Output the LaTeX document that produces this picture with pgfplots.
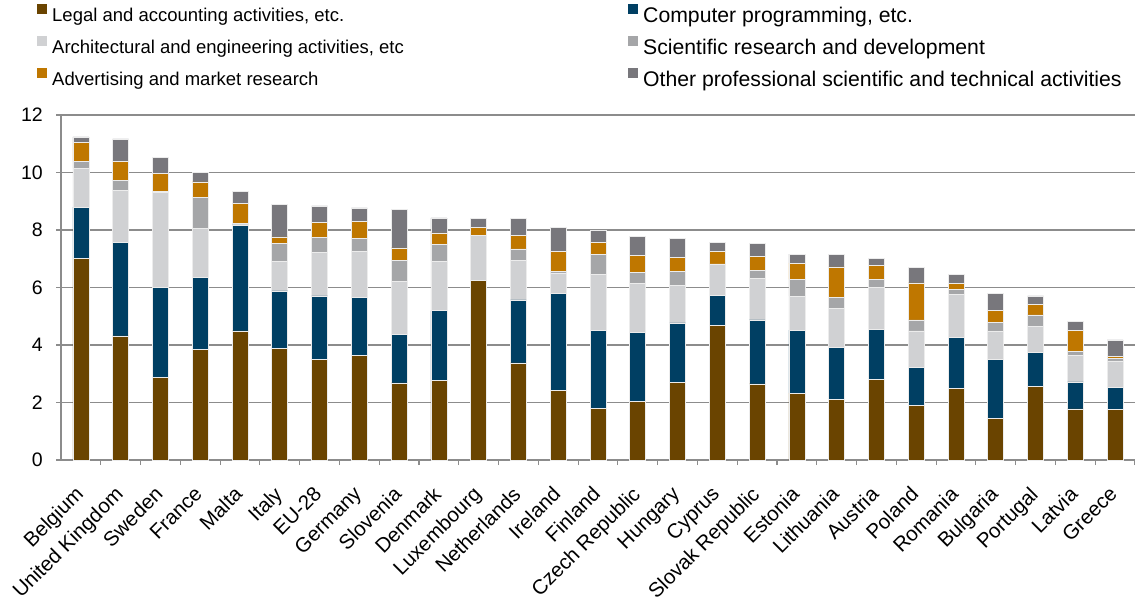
\documentclass[border=0pt]{standalone}
\usepackage{pgfplots}
\usepackage{pgfplotstable}
\pgfplotsset{compat=1.18}
\usepackage{fontspec}
\setmainfont{Liberation Sans}

\definecolor{clegal}{HTML}{6A4400}
\definecolor{ccomp}{HTML}{003F63}
\definecolor{carch}{HTML}{D0D1D3}
\definecolor{csci}{HTML}{A5A6A8}
\definecolor{cadv}{HTML}{BF7700}
\definecolor{coth}{HTML}{78777C}
\definecolor{cgrid}{HTML}{8C8C8C}

\newcommand{\bigtxt}{\fontsize{21.2}{25}\selectfont}

% employment share by sector, stacked
\pgfplotstableread{
x  legal comp arch sci  adv  oth
0  7.01  1.79 1.34 0.25 0.65 0.20
1  4.32  3.24 1.82 0.34 0.66 0.79
2  2.87  3.14 3.30 0.02 0.64 0.55
3  3.85  2.51 1.69 1.08 0.54 0.34
4  4.49  3.69 0.02 0.02 0.70 0.43
5  3.88  2.00 1.02 0.63 0.23 1.12
6  3.49  2.22 1.52 0.52 0.51 0.58
7  3.64  2.02 1.60 0.45 0.58 0.48
8  2.68  1.70 1.84 0.72 0.44 1.35
9  2.76  2.43 1.73 0.57 0.41 0.52
10 6.26  0.00 1.54 0.00 0.30 0.30
11 3.38  2.19 1.38 0.39 0.48 0.58
12 2.42  3.37 0.72 0.05 0.69 0.84
13 1.80  2.72 1.94 0.70 0.42 0.40
14 2.05  2.40 1.68 0.40 0.59 0.65
15 2.70  2.07 1.29 0.51 0.48 0.65
16 4.68  1.05 1.09 0.00 0.43 0.33
17 2.65  2.22 1.45 0.27 0.50 0.44
18 2.33  2.19 1.18 0.58 0.57 0.31
19 2.12  1.80 1.36 0.38 1.06 0.44
20 2.80  1.75 1.46 0.26 0.49 0.26
21 1.91  1.30 1.28 0.38 1.29 0.55
22 2.48  1.79 1.50 0.16 0.20 0.32
23 1.44  2.07 0.95 0.34 0.41 0.58
24 2.55  1.20 0.91 0.39 0.37 0.29
25 1.78  0.94 0.91 0.16 0.72 0.32
26 1.77  0.76 0.92 0.08 0.06 0.59
}\data

\begin{document}
\begin{tikzpicture}
\begin{axis}[
  name=ax,
  scale only axis,
  width=1074pt, height=345pt,
  ybar stacked,
  bar width=16pt,
  xmin=-0.5, xmax=26.5,
  ymin=0, ymax=12,
  ytick={0,2,...,12},
  xtick={0,...,26},
  xticklabels={Belgium, United Kingdom, Sweden, France, Malta, Italy, EU-28, Germany, Slovenia, Denmark, Luxembourg, Netherlands, Ireland, Finland, Czech Republic, Hungary, Cyprus, Slovak Republic, Estonia, Lithuania, Austria, Poland, Romania, Bulgaria, Portugal, Latvia, Greece},
  xtick style={draw=none},
  extra x ticks={0.5,1.5,...,26.5},
  extra x tick labels={},
  extra x tick style={xtick style={draw=cgrid, line width=1.2pt}, grid=none},
  ytick style={draw=cgrid, line width=1.2pt},
  tick align=outside,
  major tick length=5pt,
  axis lines*=left,
  axis line style={draw=cgrid, line width=1.2pt},
  ymajorgrids,
  grid style={draw=cgrid, line width=1.2pt},
  yticklabel style={font=\fontsize{19.5}{23}\selectfont},
  xticklabel style={font=\fontsize{20.5}{24}\selectfont},
  /pgf/number format/assume math mode=true,
  yticklabel style={anchor=east, inner sep=0pt, xshift=-13pt},
  xticklabel style={xshift=-7pt, yshift=-20pt, rotate=45, anchor=north east, inner sep=0pt},
  legend columns=2,
  legend cell align=left,
  legend style={draw=none, fill=none, inner sep=0pt,
    at={(axis description cs:0,1)}, anchor=north west,
    xshift=-24pt, yshift=111pt,
    font=\fontsize{18.5}{22}\selectfont,
    column sep=5pt, row sep=12pt,
    nodes={inner sep=0pt}},
  legend image code/.code={\path[#1, draw=none] (0pt,1.5pt) rectangle (10pt,11.5pt);},
  every axis plot/.append style={draw=white!85!gray, line width=0.6pt},
]
\addplot[fill=clegal] table[x=x, y=legal] {\data};
\addplot[fill=ccomp] table[x=x, y=comp] {\data};
\addplot[fill=carch] table[x=x, y=arch] {\data};
\addplot[fill=csci] table[x=x, y=sci] {\data};
\addplot[fill=cadv] table[x=x, y=adv] {\data};
\addplot[fill=coth] table[x=x, y=oth] {\data};
\addlegendentry{\makebox[571pt][l]{Legal and accounting activities, etc.}}
\addlegendentry{\bigtxt Computer programming, etc.}
\addlegendentry{\makebox[571pt][l]{Architectural and engineering activities, etc}}
\addlegendentry{\bigtxt Scientific research and development}
\addlegendentry{\makebox[571pt][l]{Advertising and market research}}
\addlegendentry{\bigtxt Other professional scientific and technical activities}
\end{axis}
\pgfresetboundingbox
\path ([xshift=-61pt,yshift=-136pt]ax.south west) rectangle ([yshift=115pt]ax.north east);
\end{tikzpicture}
\end{document}
